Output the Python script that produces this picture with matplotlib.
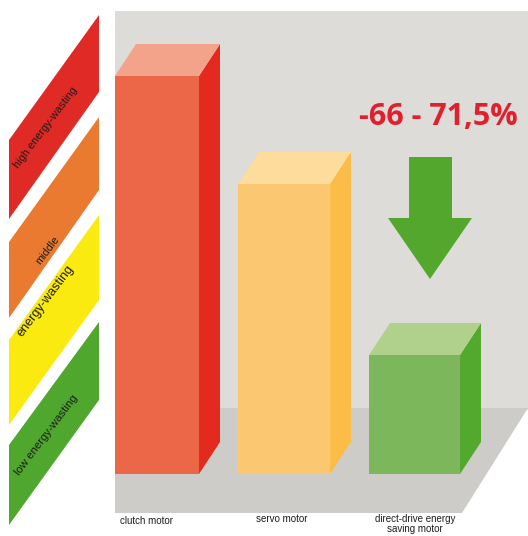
import matplotlib
matplotlib.use('Agg')
from matplotlib import pyplot as plt
from matplotlib.patches import Polygon

#chart values (clutch motor = 100)
motors=['clutch motor','servo motor','direct-drive energy\nsaving motor']
consumption=[100,72.9,29.9]
levels=['high energy-wasting','middle','energy-wasting','low energy-wasting']
saving_label='-66 - 71,5%'

#bar geometry, in pixels of the 528x536 picture
bar_left=[115,238,369]
bar_width=[84,92,91]
depth_x=21
depth_y=32
base_y=474
full_y=76
front_colors=['#ec6648','#fbc871','#7db75b']
side_colors=['#e4291f','#fcbd48','#53a92e']
top_colors=['#f4a38b','#fddc9c','#afd18c']

fig=plt.figure(figsize=(5.28,5.36),dpi=100)

#background axes, y runs downwards like the picture
bg=fig.add_axes([0,0,1,1])
bg.set_xlim(0,528)
bg.set_ylim(536,0)
bg.axis('off')

bg.add_patch(Polygon([(115,11),(528,11),(528,410),(115,410)],color='#dddcd8',lw=0))
bg.add_patch(Polygon([(115,408),(528,408),(462,513),(115,513)],color='#cdccc8',lw=0))

#coloured strips on the left
strips=[[(9,140),(99,15),(99,92),(9,219)],
        [(9,242),(99,117),(99,190),(9,318)],
        [(9,340),(99,215),(99,300),(9,425)],
        [(9,445),(99,322),(99,400),(9,525)]]
strip_colors=['#e02a26','#ea7a30','#fbea10','#4fa72e']
for points,color in zip(strips,strip_colors):
    bg.add_patch(Polygon(points,color=color,lw=0))

level_spots=[(46,128),(48,250),(46,301),(46,435)]
level_sizes=[7.9,7.8,9.1,8.2]
for name,(x,y),size in zip(levels,level_spots,level_sizes):
    bg.text(x,y,name,rotation=53,rotation_mode='anchor',ha='center',va='center',
            fontsize=size,family='Liberation Sans',color='#1c1c1c')

#bars go on their own axes, so heights come from the data scale
ax=fig.add_axes([0,0,1,1])
ax.patch.set_alpha(0)
ax.axis('off')
ax.set_xlim(0,528)
per_pixel=100/(base_y-full_y)
ax.set_ylim((base_y-536)*per_pixel,base_y*per_pixel)
rise=depth_y*per_pixel

ax.bar(bar_left,consumption,width=bar_width,align='edge',color=front_colors,linewidth=0,zorder=3)
for left,width,value,side,top in zip(bar_left,bar_width,consumption,side_colors,top_colors):
    right=left+width
    ax.add_patch(Polygon([(right,0),(right+depth_x,rise),(right+depth_x,value+rise),(right,value)],
                         color=side,lw=0,zorder=2))
    ax.add_patch(Polygon([(left,value),(right,value),(right+depth_x,value+rise),(left+depth_x,value+rise)],
                         color=top,lw=0,zorder=2))

#arrow and saving figure
bg.add_patch(Polygon([(409,157),(452,157),(452,218),(472,218),(430,279),(388,218),(409,218)],
                     color='#52a72c',lw=0))
bg.text(438,117,saving_label,ha='center',va='center',fontsize=22,fontweight='bold',
        family='Open Sans',color='#e0202c')

#motor names under the floor
name_spots=[(147,521),(282,519),(415,524)]
for name,(x,y) in zip(motors,name_spots):
    bg.text(x,y,name,ha='center',va='center',fontsize=7,family='Liberation Sans',
            color='#1c1c1c',linespacing=1.05)

fig.savefig('out.png',dpi=100,facecolor='white')
